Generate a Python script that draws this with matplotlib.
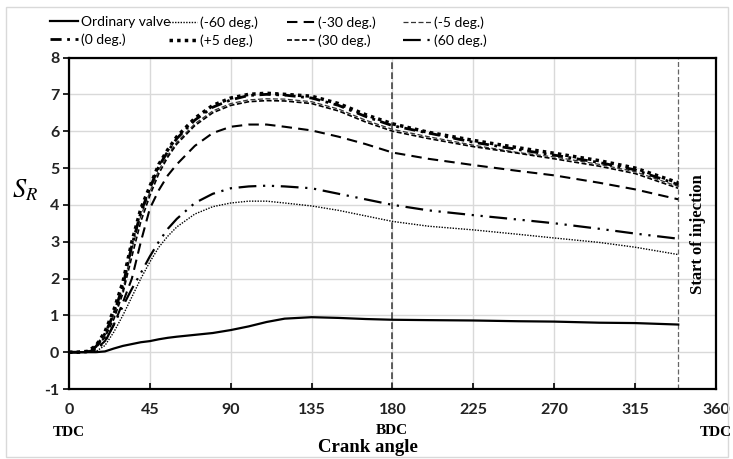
import matplotlib
matplotlib.use('Agg')
import matplotlib.pyplot as plt
from matplotlib.patches import Rectangle

# crank angle (deg) and swirl ratio
angle = [0, 5, 10, 15, 20, 25, 30, 35, 40, 45, 50, 55, 60, 70, 80, 90, 100, 110, 120,
         135, 150, 165, 180, 200, 225, 250, 270, 295, 315, 339]

ordinary = [0, 0, 0, 0, 0.02, 0.1, 0.17, 0.22, 0.27, 0.3, 0.35, 0.39, 0.42, 0.47, 0.52, 0.6,
            0.7, 0.82, 0.91, 0.95, 0.93, 0.9, 0.88, 0.87, 0.86, 0.84, 0.83, 0.8, 0.79, 0.75]
m60 = [0, 0, 0, 0.02, 0.18, 0.55, 1.0, 1.5, 2.0, 2.45, 2.85, 3.15, 3.4, 3.75, 3.95, 4.05,
       4.1, 4.1, 4.05, 3.97, 3.85, 3.7, 3.55, 3.42, 3.32, 3.2, 3.1, 2.98, 2.85, 2.65]
m30 = [0, 0, 0.01, 0.08, 0.3, 0.75, 1.35, 2.0, 3.0, 3.9, 4.4, 4.8, 5.1, 5.6, 5.95, 6.12,
       6.18, 6.18, 6.12, 6.02, 5.85, 5.65, 5.42, 5.25, 5.08, 4.92, 4.8, 4.6, 4.42, 4.15]
m5 = [0, 0, 0.02, 0.15, 0.45, 1.0, 1.7, 2.8, 3.7, 4.35, 4.95, 5.35, 5.7, 6.2, 6.55, 6.75,
      6.85, 6.88, 6.87, 6.8, 6.6, 6.3, 6.05, 5.85, 5.62, 5.42, 5.3, 5.1, 4.9, 4.5]
d0 = [0, 0, 0.02, 0.15, 0.5, 1.05, 1.8, 2.9, 3.8, 4.45, 5.05, 5.45, 5.8, 6.3, 6.65, 6.85,
      6.97, 7.0, 6.98, 6.9, 6.7, 6.4, 6.15, 5.95, 5.7, 5.5, 5.35, 5.15, 4.95, 4.55]
p5 = [0, 0, 0.02, 0.17, 0.55, 1.15, 1.9, 3.0, 3.9, 4.5, 5.1, 5.5, 5.85, 6.35, 6.7, 6.9,
      7.0, 7.03, 7.0, 6.95, 6.75, 6.45, 6.2, 5.97, 5.75, 5.55, 5.4, 5.2, 5.0, 4.6]
p30 = [0, 0, 0.02, 0.12, 0.4, 0.9, 1.6, 2.6, 3.55, 4.25, 4.85, 5.3, 5.65, 6.15, 6.5, 6.7,
       6.8, 6.83, 6.82, 6.75, 6.55, 6.25, 6.0, 5.8, 5.58, 5.4, 5.25, 5.05, 4.85, 4.45]
p60 = [0, 0, 0, 0.05, 0.28, 0.75, 1.25, 1.72, 2.15, 2.6, 3.0, 3.35, 3.62, 4.05, 4.3, 4.45,
       4.5, 4.52, 4.5, 4.45, 4.3, 4.15, 4.0, 3.85, 3.72, 3.6, 3.5, 3.35, 3.22, 3.08]

labels = ['Ordinary valve', '(-60 deg.)', '(-30 deg.)', '(-5 deg.)',
          '(0 deg.)', '(+5 deg.)', '(30 deg.)', '(60 deg.)']
xticks = [0, 45, 90, 135, 180, 225, 270, 315, 360]
yticks = [-1, 0, 1, 2, 3, 4, 5, 6, 7, 8]

plt.rcParams['font.family'] = ['Lato', 'DejaVu Sans']
plt.rcParams['mathtext.fontset'] = 'stix'
plt.rcParams['axes.unicode_minus'] = False

fig = plt.figure(figsize=(7.33, 4.59), dpi=100)
fig.patches.append(Rectangle((0.008, 0.004), 0.985, 0.98, transform=fig.transFigure,
                             fill=False, edgecolor='#d9d9d9', lw=1))
ax = fig.add_axes([0.0941, 0.1525, 0.8827, 0.7222])

lines = []
lines += ax.plot(angle, ordinary, color='black', lw=1.6, ls='-')
lines += ax.plot(angle, m60, color='black', lw=1.0, ls=(0, (1, 1)))
lines += ax.plot(angle, m30, color='black', lw=1.5, ls=(0, (5, 3)))
lines += ax.plot(angle, m5, color='#333333', lw=0.9, ls=(0, (4, 2)))
lines += ax.plot(angle, d0, color='black', lw=2.0, ls=(0, (4, 2, 1, 2)))
lines += ax.plot(angle, p5, color='black', lw=2.5, ls=(0, (1, 1.2)))
lines += ax.plot(angle, p30, color='black', lw=1.2, ls=(0, (3, 1.5)))
lines += ax.plot(angle, p60, color='black', lw=1.6, ls=(0, (8, 3, 1, 3, 1, 3)))

# BDC and start of injection markers
ax.axvline(180, color='#444444', lw=1.2, ls=(0, (4, 2)), zorder=1)
ax.axvline(339, color='#666666', lw=0.9, ls=(0, (4, 2)), zorder=1)

ax.set_xlim(0, 360)
ax.set_ylim(-1, 8)
ax.set_xticks(xticks)
ax.set_yticks(yticks)
ax.grid(True, color='#d9d9d9', lw=1)
ax.set_axisbelow(True)
for s in ax.spines.values():
    s.set_linewidth(1.6)
ax.tick_params(axis='x', direction='in', length=4, width=1.2, pad=10, labelsize=11.5)
ax.tick_params(axis='y', direction='out', length=4, width=1.2, pad=3, labelsize=11.5)
for t in ax.get_xticklabels() + ax.get_yticklabels():
    t.set_fontweight('bold')
    t.set_color('#222222')

serif = 'Liberation Serif'
fig.text(69 / 733, 1 - 432 / 459, 'TDC', ha='center', va='center', family=serif,
         fontweight='bold', fontsize=11)
fig.text(716 / 733, 1 - 432 / 459, 'TDC', ha='center', va='center', family=serif,
         fontweight='bold', fontsize=11)
fig.text(392 / 733, 1 - 431 / 459, 'BDC', ha='center', va='center', family=serif,
         fontweight='bold', fontsize=11)
fig.text(368 / 733, 1 - 448 / 459, 'Crank angle', ha='center', va='center', family=serif,
         fontweight='bold', fontsize=13.5)
ax.text(350, 3.2, 'Start of injection', rotation=90, ha='center', va='center',
        family=serif, fontweight='bold', fontsize=12)
fig.text(25 / 733, 1 - 190 / 459, r'$S_R$', ha='center', va='center', fontsize=19)

# legend: four columns of two rows
col_x = [50, 169, 287, 403]
for i in range(4):
    leg = fig.legend([lines[i], lines[i + 4]], [labels[i], labels[i + 4]],
                     loc='upper left', bbox_to_anchor=(col_x[i] / 733, 1 - 16 / 459),
                     frameon=False, fontsize=10, handlelength=2.0, handletextpad=0.25,
                     labelspacing=0.4, borderpad=0, borderaxespad=0)

fig.savefig('out.png', dpi=100)
